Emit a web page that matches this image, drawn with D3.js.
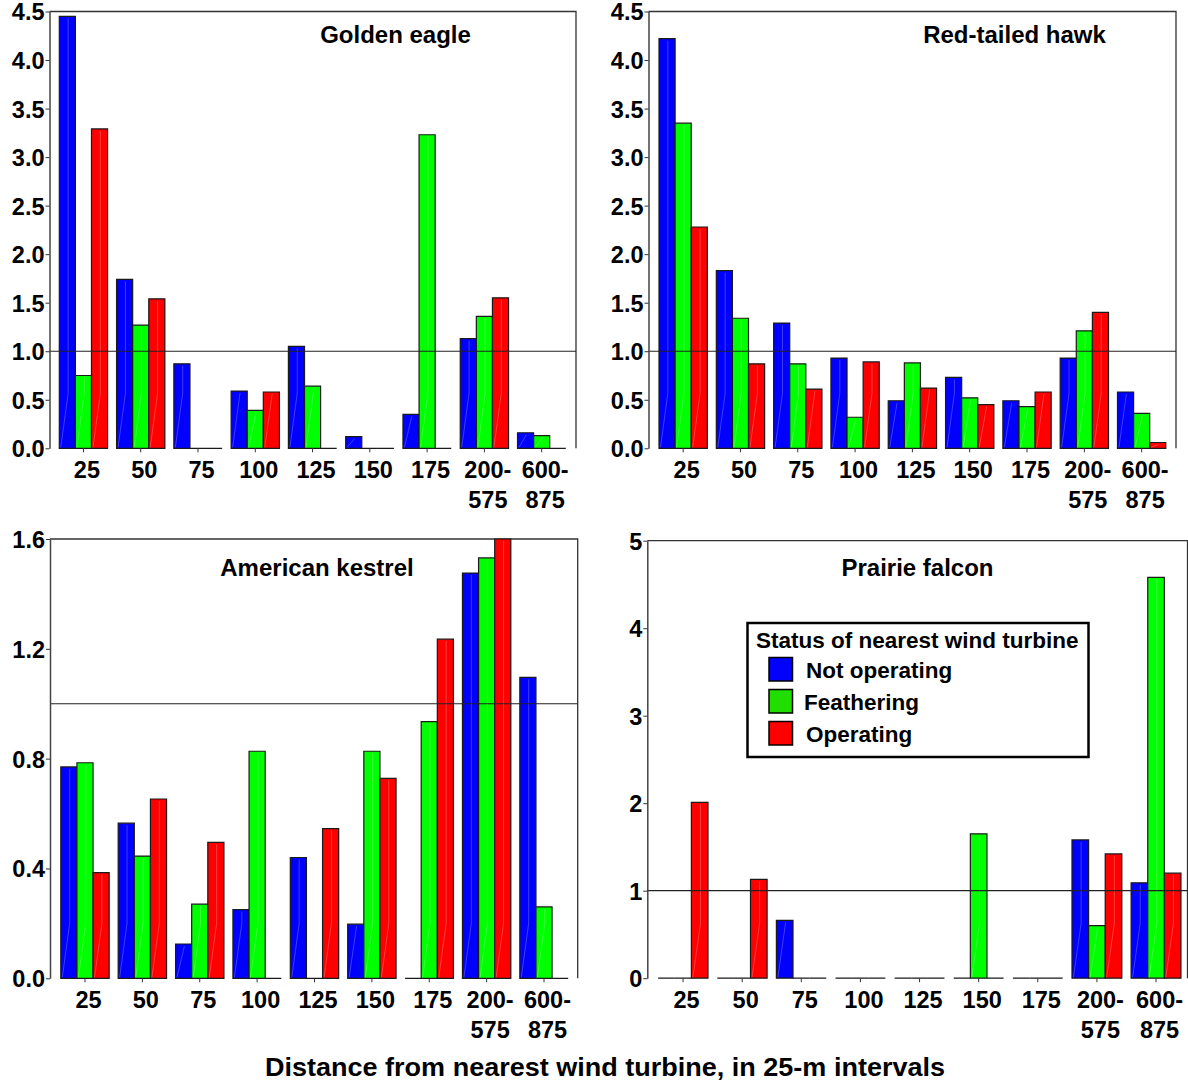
<!DOCTYPE html>
<html><head><meta charset="utf-8">
<script src="https://cdn.jsdelivr.net/npm/d3@7"></script>
<style>
html,body{margin:0;padding:0;background:#fff;}
text{font-family:"Liberation Sans",Arial,sans-serif;font-weight:bold;fill:#000;}
</style></head>
<body><svg id="chart" width="1188" height="1082"></svg>
<script>
// ---------- data ----------
const categories = ["25","50","75","100","125","150","175","200-575","600-875"];
const tickLabels = [["25"],["50"],["75"],["100"],["125"],["150"],["175"],["200-","575"],["600-","875"]];
const seriesNames = ["Not operating","Feathering","Operating"];
const seriesColors = ["#0000ff","#00ff00","#ff0000"];
const legendColors = ["#0000ff","#22dd00","#ff0000"];

const goldenEagleNotOperating = [4.45,1.74,0.87,0.59,1.05,0.12,0.35,1.13,0.16];
const goldenEagleFeathering   = [0.75,1.27,0,0.39,0.64,0,3.23,1.36,0.13];
const goldenEagleOperating    = [3.29,1.54,0,0.58,0,0,0,1.55,0];

const redTailedHawkNotOperating = [4.22,1.83,1.29,0.93,0.49,0.73,0.49,0.93,0.58];
const redTailedHawkFeathering   = [3.35,1.34,0.87,0.32,0.88,0.52,0.43,1.21,0.36];
const redTailedHawkOperating    = [2.28,0.87,0.61,0.89,0.62,0.45,0.58,1.40,0.06];

const kestrelNotOperating = [0.77,0.565,0.125,0.25,0.44,0.197,0,1.476,1.096];
const kestrelFeathering   = [0.785,0.445,0.27,0.827,0,0.827,0.935,1.531,0.26];
const kestrelOperating    = [0.385,0.653,0.495,0,0.545,0.728,1.235,1.6,0];

const prairieFalconNotOperating = [0,0,0.66,0,0,0,0,1.58,1.09];
const prairieFalconFeathering   = [0,0,0,0,0,1.65,0,0.6,4.58];
const prairieFalconOperating    = [2.01,1.13,0,0,0,0,0,1.42,1.2];

const ticksEagleHawk = [0,0.5,1,1.5,2,2.5,3,3.5,4,4.5];
const ticksKestrel = [0,0.4,0.8,1.2,1.6];
const ticksFalcon = [0,1,2,3,4,5];

const xAxisTitle = "Distance from nearest wind turbine, in 25-m intervals";
const legendTitle = "Status of nearest wind turbine";

// ---------- drawing ----------
const svg = d3.select("#chart");

function drawPanel(cfg){
  const g = svg.append("g");
  const y = d3.scaleLinear().domain([0, cfg.ymax]).range([cfg.y0, cfg.top]);
  const x = d3.scaleBand().domain(categories).range(cfg.xr).paddingInner(0.157).paddingOuter(0.0785);
  const xs = d3.scaleBand().domain(seriesNames).range([0, x.bandwidth()]);

  // frame: top and right border
  g.append("path")
    .attr("d", `M${cfg.left},${cfg.top}H${cfg.right}V${cfg.y0}`)
    .attr("fill","none").attr("stroke","#333").attr("stroke-width",1.3);

  // bars
  cfg.series.forEach((vals, si) => {
    const bg = g.append("g");
    categories.forEach((c,i) => {
      const x0 = x(c) + xs(seriesNames[si]);
      const w = xs.bandwidth();
      const yt = y(Math.min(vals[i], cfg.ymax));
      bg.append("path")
        .attr("d", `M${x0},${cfg.y0}V${yt}H${x0+w}V${cfg.y0}Z`)
        .attr("fill", seriesColors[si])
        .attr("stroke","#1a1a1a").attr("stroke-width",1.2);
      if (cfg.y0 - yt > 4) {
        const xm = x0 + w*0.55;
        const yk = Math.max(yt + 2, cfg.y0 - 55);
        bg.append("path")
          .attr("d", `M${x0+1.5},${cfg.y0-1}L${xm},${yk}V${yt+2}`)
          .attr("fill","none").attr("stroke","#fff").attr("stroke-opacity",0.3).attr("stroke-width",0.8);
      }
    });
  });

  // reference line at 1.0
  g.append("line")
    .attr("x1", cfg.left).attr("x2", cfg.right)
    .attr("y1", y(1)).attr("y2", y(1))
    .attr("stroke","#222").attr("stroke-width",1.2);

  // y axis
  const ya = g.append("g").attr("transform", `translate(${cfg.left},0)`)
    .call(d3.axisLeft(y).tickValues(cfg.yticks).tickFormat(cfg.fmt).tickSize(4).tickSizeOuter(0));
  ya.select(".domain").attr("stroke","#444").attr("stroke-width",1.5);
  ya.selectAll(".tick line").attr("stroke","#333");
  ya.selectAll(".tick text").attr("x",-5).attr("dy","0.36em")
    .style("font-size","23.5px").style("font-family","'Liberation Sans',Arial,sans-serif").style("font-weight","bold");

  // x axis (ticks only, no baseline)
  const xa = g.append("g").attr("transform", `translate(0,${cfg.y0})`)
    .call(d3.axisBottom(x).tickSize(4).tickSizeOuter(0).tickFormat(""));
  xa.select(".domain").remove();
  xa.selectAll(".tick line").attr("stroke","#333");
  categories.forEach((c,i) => {
    const cx = x(c) + x.bandwidth()/2 + 3.5;
    const t = g.append("text")
      .attr("x", cx)
      .attr("y", cfg.y0 + 30)
      .attr("text-anchor","middle")
      .style("font-size","23.5px");
    tickLabels[i].forEach((s,j) => {
      t.append("tspan").attr("x", cx).attr("dy", j===0 ? 0 : 30).text(s);
    });
  });

  // title
  g.append("text").attr("x", cfg.titleX).attr("y", cfg.titleY)
    .attr("text-anchor","middle").style("font-size","24px").text(cfg.title);
  return {g, x, y};
}

drawPanel({left:49.5, right:576, top:11.5, y0:448.3, ymax:4.5, xr:[54.8,570.3],
  yticks:ticksEagleHawk, fmt:d3.format(".1f"), title:"Golden eagle", titleX:395.5, titleY:43,
  series:[goldenEagleNotOperating, goldenEagleFeathering, goldenEagleOperating]});

drawPanel({left:648.5, right:1176, top:11.5, y0:448.3, ymax:4.5, xr:[654.5,1170.3],
  yticks:ticksEagleHawk, fmt:d3.format(".1f"), title:"Red-tailed hawk", titleX:1014.5, titleY:43,
  series:[redTailedHawkNotOperating, redTailedHawkFeathering, redTailedHawkOperating]});

drawPanel({left:50, right:577.7, top:539, y0:978.3, ymax:1.6, xr:[56.3,572.7],
  yticks:ticksKestrel, fmt:d3.format(".1f"), title:"American kestrel", titleX:317, titleY:576,
  series:[kestrelNotOperating, kestrelFeathering, kestrelOperating]});

drawPanel({left:647.3, right:1187.5, top:540.7, y0:978.2, ymax:5, xr:[653.5,1185.6],
  yticks:ticksFalcon, fmt:d3.format("d"), title:"Prairie falcon", titleX:917.5, titleY:576,
  series:[prairieFalconNotOperating, prairieFalconFeathering, prairieFalconOperating]});

// legend
const lg = svg.append("g");
lg.append("rect").attr("x",747.5).attr("y",623).attr("width",341).attr("height",134)
  .attr("fill","#fff").attr("stroke","#000").attr("stroke-width",2.5);
lg.append("text").attr("x",756).attr("y",648).style("font-size","22.5px").text(legendTitle);
seriesNames.forEach((s,i) => {
  lg.append("rect").attr("x",769).attr("y",657.5 + i*32).attr("width",23.5).attr("height",23.5)
    .attr("fill",legendColors[i]).attr("stroke","#000").attr("stroke-width",1.5);
  lg.append("text").attr("x", i===1 ? 804 : 806).attr("y",677.5 + i*32).style("font-size","22.5px").text(s);
});

// overall x-axis title
svg.append("text").attr("x",605).attr("y",1076).attr("text-anchor","middle")
  .attr("textLength",680).attr("lengthAdjust","spacingAndGlyphs")
  .style("font-size","25px").text(xAxisTitle);
</script></body></html>
